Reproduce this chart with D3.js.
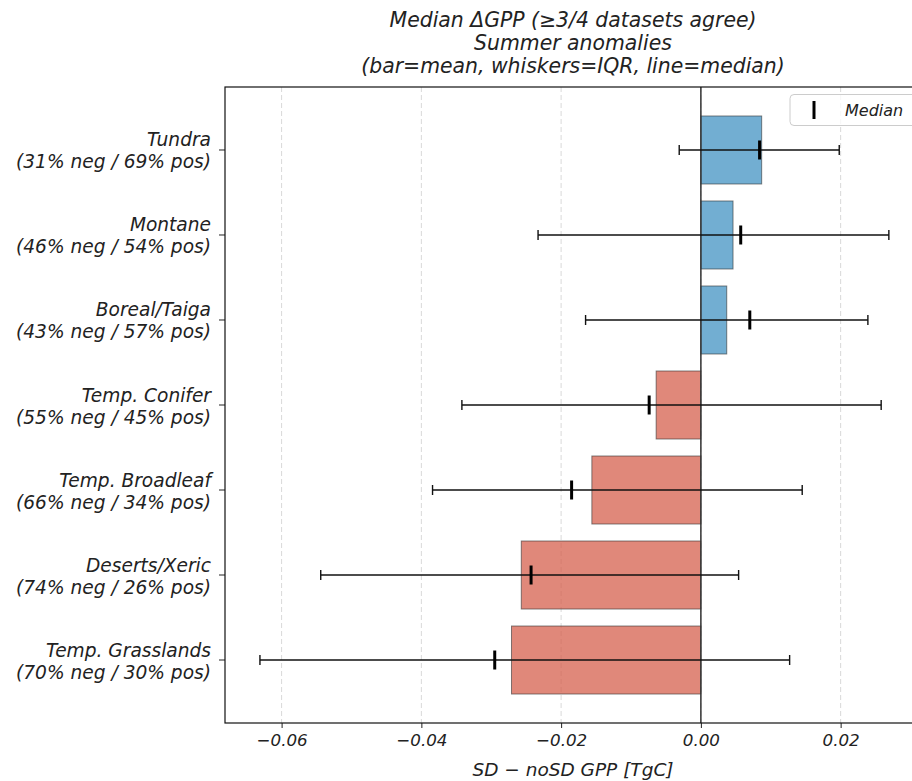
<!DOCTYPE html>
<html>
<head>
<meta charset="utf-8">
<script src="https://cdn.jsdelivr.net/npm/d3@7"></script>
<style>
  body { margin: 0; background: #fff; }
  svg text { font-family: "DejaVu Sans", sans-serif; font-style: italic; fill: #222; }
</style>
</head>
<body>
<div id="chart"></div>
<script>
// Data
const categories = ["Tundra", "Montane", "Boreal/Taiga", "Temp. Conifer", "Temp. Broadleaf", "Deserts/Xeric", "Temp. Grasslands"];
const negPct = [31, 46, 43, 55, 66, 74, 70];
const posPct = [69, 54, 57, 45, 34, 26, 30];
const means = [0.0087, 0.0046, 0.0037, -0.0064, -0.0156, -0.0257, -0.0271];
const medians = [0.0084, 0.0057, 0.0070, -0.0074, -0.0185, -0.0243, -0.0295];
const q1 = [-0.0031, -0.0233, -0.0165, -0.0342, -0.0384, -0.0544, -0.0631];
const q3 = [0.0198, 0.0269, 0.0239, 0.0258, 0.0145, 0.0054, 0.0127];
const xTicks = [-0.06, -0.04, -0.02, 0.00, 0.02];
const titleLines = ["Median \u0394GPP (\u22653/4 datasets agree)", "Summer anomalies", "(bar=mean, whiskers=IQR, line=median)"];

const W = 912, H = 781;
const plot = { left: 225, right: 921, top: 87, bottom: 723 };

const svg = d3.select("#chart").append("svg")
    .attr("width", W)
    .attr("height", H);

const x = d3.scaleLinear()
    .domain([-0.0681, 0.0315])
    .range([plot.left, plot.right]);

const y = d3.scaleLinear()
    .domain([-0.741, categories.length - 1 + 0.741])
    .range([plot.top, plot.bottom]);

const barH = y(0.4) - y(-0.4);

// grid
svg.append("g").selectAll("line")
    .data(xTicks)
    .enter().append("line")
    .attr("x1", d => x(d)).attr("x2", d => x(d))
    .attr("y1", plot.top).attr("y2", plot.bottom)
    .attr("stroke", "#d9d9d9")
    .attr("stroke-width", 1)
    .attr("stroke-dasharray", "5,3");

// bars
svg.append("g").selectAll("rect")
    .data(means)
    .enter().append("rect")
    .attr("x", d => x(Math.min(0, d)))
    .attr("y", (d, i) => y(i) - barH / 2)
    .attr("width", d => Math.abs(x(d) - x(0)))
    .attr("height", barH)
    .attr("fill", d => d >= 0 ? "#4393c3" : "#d6604d")
    .attr("fill-opacity", 0.75)
    .attr("stroke", "#333")
    .attr("stroke-opacity", 0.6)
    .attr("stroke-width", 1);

// zero line
svg.append("line")
    .attr("x1", x(0)).attr("x2", x(0))
    .attr("y1", plot.top).attr("y2", plot.bottom)
    .attr("stroke", "#333")
    .attr("stroke-width", 1.5);

// whiskers (IQR)
const whisk = svg.append("g").attr("stroke", "#111").attr("stroke-width", 1.4);
categories.forEach((c, i) => {
    whisk.append("line")
        .attr("x1", x(q1[i])).attr("x2", x(q3[i]))
        .attr("y1", y(i)).attr("y2", y(i));
    [q1[i], q3[i]].forEach(v => {
        whisk.append("line")
            .attr("x1", x(v)).attr("x2", x(v))
            .attr("y1", y(i) - 5).attr("y2", y(i) + 5);
    });
});

// medians
svg.append("g").selectAll("line")
    .data(medians)
    .enter().append("line")
    .attr("x1", d => x(d)).attr("x2", d => x(d))
    .attr("y1", (d, i) => y(i) - 9.5)
    .attr("y2", (d, i) => y(i) + 9.5)
    .attr("stroke", "#000")
    .attr("stroke-width", 3);

// x axis
const xAxis = svg.append("g")
    .attr("transform", `translate(0,${plot.bottom})`)
    .call(d3.axisBottom(x).tickValues(xTicks).tickSize(5).tickPadding(6));
xAxis.select(".domain").remove();
xAxis.selectAll("line").attr("stroke", "#222");
xAxis.selectAll("text")
    .attr("font-size", "16.7px")
    .attr("font-family", "DejaVu Sans")
    .attr("fill", "#222")
    .text(d => d3.format(".2f")(d).replace("-", "\u2212"));

// y ticks + two-line labels
const yAxis = svg.append("g");
categories.forEach((c, i) => {
    yAxis.append("line")
        .attr("x1", plot.left - 6).attr("x2", plot.left)
        .attr("y1", y(i)).attr("y2", y(i))
        .attr("stroke", "#222");
    const t = yAxis.append("text")
        .attr("text-anchor", "end")
        .attr("font-size", "18.6px");
    t.append("tspan").attr("x", plot.left - 14).attr("y", y(i) - 3.5).text(c);
    t.append("tspan").attr("x", plot.left - 14).attr("y", y(i) + 18.5).text(`(${negPct[i]}% neg / ${posPct[i]}% pos)`);
});

// frame
svg.append("rect")
    .attr("x", plot.left).attr("y", plot.top)
    .attr("width", plot.right - plot.left).attr("height", plot.bottom - plot.top)
    .attr("fill", "none")
    .attr("stroke", "#111")
    .attr("stroke-width", 1.2);

// x label
svg.append("text")
    .attr("x", (plot.left + plot.right) / 2)
    .attr("y", 776)
    .attr("text-anchor", "middle")
    .attr("font-size", "18.5px")
    .text("SD \u2212 noSD GPP [TgC]");

// title
svg.append("g").selectAll("text")
    .data(titleLines)
    .enter().append("text")
    .attr("x", (plot.left + plot.right) / 2)
    .attr("y", (d, i) => 27 + i * 23)
    .attr("text-anchor", "middle")
    .attr("font-size", "20.4px")
    .text(d => d);

// legend
const lg = svg.append("g");
lg.append("rect")
    .attr("x", 790).attr("y", 94.5)
    .attr("width", 128).attr("height", 31)
    .attr("rx", 4)
    .attr("fill", "#fff").attr("fill-opacity", 0.8)
    .attr("stroke", "#ccc");
lg.append("line")
    .attr("x1", 814).attr("x2", 814)
    .attr("y1", 101).attr("y2", 119)
    .attr("stroke", "#000").attr("stroke-width", 3);
lg.append("text")
    .attr("x", 845).attr("y", 116)
    .attr("font-size", "16px")
    .text("Median");
</script>
</body>
</html>
